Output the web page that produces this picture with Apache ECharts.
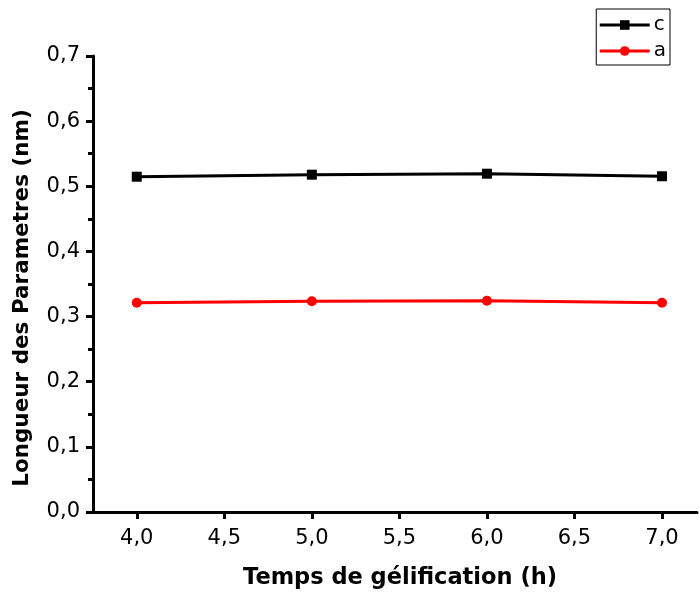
<!DOCTYPE html>
<html>
<head>
<meta charset="utf-8">
<script src="https://cdn.jsdelivr.net/npm/echarts@6/dist/echarts.min.js"></script>
<style>
  html, body { margin: 0; padding: 0; background: #fff; }
  #chart { width: 699px; height: 594px; }
</style>
</head>
<body>
<div id="chart"></div>
<script>
// gelation time (h)
const hours = [4.0, 5.0, 6.0, 7.0];
// lattice parameters (nm)
const paramC = [0.5147, 0.5178, 0.5193, 0.5154];
const paramA = [0.3213, 0.3234, 0.3244, 0.3213];
const xTicks = [4, 4.5, 5, 5.5, 6, 6.5, 7];

const fmt = v => v.toFixed(1).replace('.', ',');
const font = 'DejaVu Sans';

const chart = echarts.init(document.getElementById('chart'));

chart.setOption({
  backgroundColor: '#fff',
  animation: false,
  grid: { left: 93, right: 2, top: 56, bottom: 82, outerBoundsMode: 'none', containLabel: false },
  legend: {
    orient: 'vertical',
    right: 29,
    top: 9,
    itemWidth: 50,
    itemHeight: 12,
    itemGap: 6,
    padding: [6, 4, 4, 2],
    borderColor: '#000',
    borderWidth: 1,
    lineStyle: { width: 3 },
    textStyle: { fontFamily: font, fontSize: 20, color: '#000', padding: [0, 0, 0, -1] },
    data: ['c', 'a'],
  },
  xAxis: {
    type: 'value',
    min: 3.75,
    max: 7.2,
    interval: 0.5,
    axisLine: { lineStyle: { color: '#000', width: 3 } },
    axisTick: { show: true, length: 7, lineStyle: { width: 3 }, customValues: xTicks },
    minorTick: { show: true, splitNumber: 2, length: 5, lineStyle: { color: '#000', width: 3 } },
    splitLine: { show: false },
    axisLabel: {
      fontFamily: font, fontSize: 21, color: '#000', margin: 16,
      customValues: xTicks,
      formatter: fmt,
    },
    name: 'Temps de gélification (h)',
    nameLocation: 'middle',
    nameGap: 55,
    nameTextStyle: { fontFamily: font, fontSize: 22.5, fontWeight: 'bold', color: '#000', padding: [0, 0, 0, 10] },
  },
  yAxis: {
    type: 'value',
    min: 0,
    max: 0.7,
    interval: 0.1,
    axisLine: { show: true, lineStyle: { color: '#000', width: 3 } },
    axisTick: { show: true, length: 7, lineStyle: { width: 3 } },
    minorTick: { show: true, splitNumber: 2, length: 5, lineStyle: { color: '#000', width: 3 } },
    splitLine: { show: false },
    axisLabel: { fontFamily: font, fontSize: 21, color: '#000', margin: 13, formatter: fmt },
    name: 'Longueur des Parametres (nm)',
    nameLocation: 'middle',
    nameGap: 60,
    nameTextStyle: { fontFamily: font, fontSize: 21.5, fontWeight: 'bold', color: '#000', padding: [0, 28, 0, 0] },
  },
  series: [
    {
      name: 'c',
      type: 'line',
      data: hours.map((h, i) => [h, paramC[i]]),
      symbol: 'rect',
      symbolSize: 10,
      lineStyle: { color: '#000', width: 3 },
      itemStyle: { color: '#000' },
    },
    {
      name: 'a',
      type: 'line',
      data: hours.map((h, i) => [h, paramA[i]]),
      symbol: 'circle',
      symbolSize: 10,
      lineStyle: { color: '#ff0000', width: 3 },
      itemStyle: { color: '#ff0000' },
    },
  ],
});
</script>
</body>
</html>
